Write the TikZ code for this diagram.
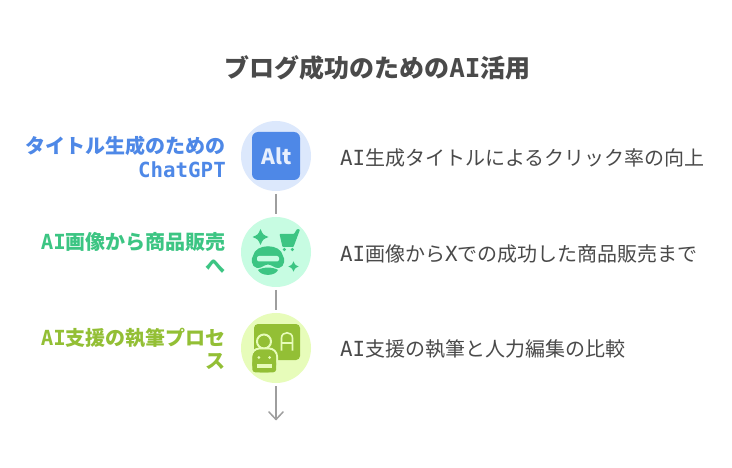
\documentclass[tikz,border=0pt]{standalone}
\usepackage{fontspec}
\setmainfont{Noto Sans CJK JP}
\newfontfamily\latfont{DejaVu Sans Mono}
\newcommand{\lat}[1]{{\latfont\addfontfeature{Scale=1.04}#1}}
\definecolor{ink}{HTML}{4A4A4A}
\definecolor{conn}{HTML}{9E9E9E}
\definecolor{cblue}{HTML}{4E88E7}
\definecolor{lblue}{HTML}{DCE8FC}
\definecolor{cgreen}{HTML}{3CC583}
\definecolor{lgreen}{HTML}{C7FCE2}
\definecolor{colive}{HTML}{93BF35}
\definecolor{lolive}{HTML}{E7FCBA}
\tikzset{
  hub/.style={circle,minimum size=70pt,inner sep=0pt,outer sep=3pt},
  lefttext/.style={anchor=east,align=right,font=\fontsize{20}{23.5}\selectfont\bfseries,inner sep=0pt},
  righttext/.style={anchor=west,font=\fontsize{20}{24}\selectfont,text=ink,inner sep=0pt},
  conline/.style={draw=conn,line width=1.5pt}
}
\newcommand{\spark}[4]{\fill[#4] (#1-#3,#2) .. controls (#1-#3*0.3,#2-#3*0.3) .. (#1,#2-#3) .. controls (#1+#3*0.3,#2-#3*0.3) .. (#1+#3,#2) .. controls (#1+#3*0.3,#2+#3*0.3) .. (#1,#2+#3) .. controls (#1-#3*0.3,#2+#3*0.3) .. cycle;}
\begin{document}
\begin{tikzpicture}[x=1pt,y=-1pt]
\useasboundingbox (0,0) rectangle (732,468);
\fill[white] (0,0) rectangle (732,468);
\node[font=\fontsize{25}{28}\selectfont\bfseries,text=ink,inner sep=0pt] (title) at (377.5,68) {ブログ成功のための\lat{AI}活用};
% hubs
\node[hub,fill=lblue] (h1) at (276,156) {};
\node[hub,fill=lgreen] (h2) at (276,252) {};
\node[hub,fill=lolive] (h3) at (276,348) {};
\coordinate (end) at (276,419.5);
\draw[conline] (h1) -- (h2);
\draw[conline] (h2) -- (h3);
\draw[conline] (h3) -- (end);
\draw[conline,line cap=round,line join=round] (269,412) -- (end) -- (283,412);
% icon 1
\fill[cblue,rounded corners=6pt] (252,132) rectangle (300,180);
\node[font=\fontsize{21}{24}\selectfont\bfseries,text=lblue!70!white,inner sep=0pt] (i1) at (276.5,156) {Alt};
% icon 2
\spark{260.5}{237}{8}{cgreen}
\spark{293.5}{266.5}{5.2}{cgreen}
\fill[cgreen,rounded corners=0.8pt] (279.5,234) -- (294,234) -- (297,229) -- (300,229.5) -- (293.5,247) -- (282.5,247) -- cycle;
\fill[cgreen] (284.3,249.5) circle (1.8) (292.3,249.5) circle (1.8);
\fill[cgreen] (253,256) .. controls (255,243) and (281,243) .. (283,256)
  .. controls (285,258) and (285,267) .. (279,268)
  .. controls (274,268.5) and (272,264.5) .. (268,264.5)
  .. controls (264,264.5) and (262,268.5) .. (257,268)
  .. controls (251,267) and (251,258) .. (253,256) -- cycle;
\fill[lgreen,rounded corners=2pt] (257,256) rectangle (279,261.5);
\fill[cgreen] (258,270) .. controls (263,266.8) and (273,266.8) .. (278,270) .. controls (275,276.5) and (261,276.5) .. (258,270) -- cycle;
% icon 3
\fill[colive,rounded corners=4pt] (254,324) rectangle (300,360);
\draw[lolive,line width=1.6pt] (281.5,350.5) -- (281.5,338) .. controls (281.5,331) and (292.5,331) .. (292.5,338) -- (292.5,350.5) (281.5,343) -- (292.5,343);
\fill[colive,draw=lolive,line width=2pt] (264,341.5) circle (7);
\fill[colive,draw=lolive,line width=2pt,rounded corners=8pt] (251.5,373) rectangle (277,348.5);
\fill[colive,rounded corners=8pt] (252.3,372.3) rectangle (276.2,349.5);
\fill[colive,rounded corners=3pt] (252.3,372.3) rectangle (276.2,360);
\fill[lolive] (258.8,357.5) circle (1.5) (269.5,357.5) circle (1.5);
\fill[lolive] (257,363.5) rectangle (271.5,367.5);
% left labels
\node[lefttext,text=cblue] (l1) at (226,157) {タイトル生成のための\\\lat{ChatGPT}};
\node[lefttext,text=cgreen] (l2) at (226,253) {\lat{AI}画像から商品販売\\へ};
\node[lefttext,text=colive] (l3) at (226,349) {\lat{AI}支援の執筆プロセ\\ス};
% right labels
\node[righttext] (r1) at (340,157.5) {\lat{AI}生成タイトルによるクリック率の向上};
\node[righttext] (r2) at (340,253.5) {\lat{AI}画像から\lat{X}での成功した商品販売まで};
\node[righttext] (r3) at (340,349.5) {\lat{AI}支援の執筆と人力編集の比較};
\end{tikzpicture}
\end{document}
